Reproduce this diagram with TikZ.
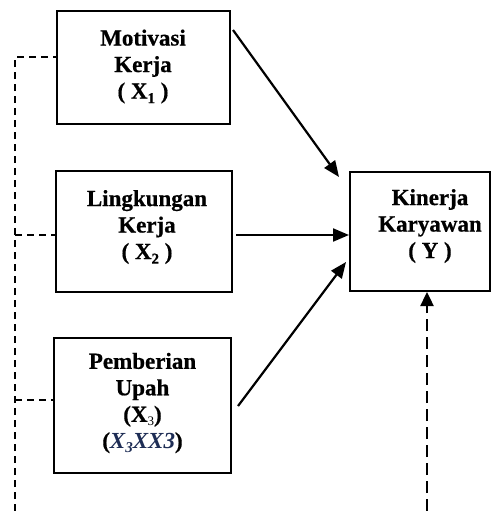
\documentclass[tikz,border=0pt]{standalone}
\usepackage{fontspec}
\setmainfont{Liberation Serif}[BoldFeatures={FakeBold=0.6}]
\usetikzlibrary{arrows.meta,calc}
\definecolor{navy}{RGB}{30,45,85}
\newcommand\mysub[1]{\raisebox{-0.2em}{\fontsize{15}{15}\selectfont #1}}
\newcommand\mysubb[1]{\raisebox{-0.15em}{\fontsize{13}{13}\selectfont\mdseries #1}}
\begin{document}
\begin{tikzpicture}[x=1pt,y=-1pt,
  box/.style={draw,line width=2pt,inner sep=0pt,align=center},
  lbltext/.style={align=center,inner sep=0pt,font=\bfseries\fontsize{23}{26.5}\selectfont},
  arr/.style={line width=2.2pt,-{Triangle[length=16pt,width=13pt]}},
  dashl/.style={line width=1.6pt,dash pattern=on 7pt off 5pt},
  dashr/.style={line width=2.4pt,dash pattern=on 12pt off 6pt,-{Triangle[length=14pt,width=13pt]}}]
\useasboundingbox (0,0) rectangle (493,511);
% boxes
\node[box,minimum width=173pt,minimum height=113pt] (b1) at (143.5,67.5) {};
\node[box,minimum width=176pt,minimum height=121pt] (b2) at (144,231.5) {};
\node[box,minimum width=177pt,minimum height=135pt] (b3) at (142.5,405.5) {};
\node[box,minimum width=140pt,minimum height=119pt] (ky) at (420,231.5) {};
% texts
\node[lbltext] (t1) at (143,66.5) {Motivasi\\Kerja\\( X\mysub{1} )};
\node[lbltext] (t2) at (147,227) {Lingkungan\\Kerja\\( X\mysub{2} )};
\node[lbltext] (t3) at (142.5,403) {Pemberian\\Upah\\(X\mysubb{3})\\(\textcolor{navy}{\itshape X\mysub{3}XX3})};
\node[lbltext] (t4) at (430,226) {Kinerja\\Karyawan\\( Y )};
% arrows
\coordinate (a1s) at ($(b1.north east)+(2,20)$);
\coordinate (a1e) at ($(ky.north west)+(-10,6)$);
\draw[arr] (a1s) -- (a1e);
\coordinate (a2s) at ($(b2.east)+(3,3.5)$);
\draw[arr] (a2s) -- (a2s -| ky.west);
\coordinate (a3s) at ($(b3.east)+(6,0.5)$);
\coordinate (a3e) at ($(ky.west)+(-3,30.5)$);
\draw[arr] (a3s) -- (a3e);
% dashed left
\coordinate (lb) at (15,511);
\coordinate (l1) at ($(b1.west)+(0,-10.5)$);
\coordinate (l2) at ($(b2.west)+(0,3.5)$);
\coordinate (l3) at ($(b3.west)+(0,-5.5)$);
\draw[dashl] (lb) |- (l1);
\draw[dashl] (l2 -| lb) -- (l2);
\draw[dashl] (l3 -| lb) -- (l3);
% dashed right
\coordinate (rb) at (427,511);
\draw[dashr] (rb) -- (rb |- ky.south);
\end{tikzpicture}
\end{document}
